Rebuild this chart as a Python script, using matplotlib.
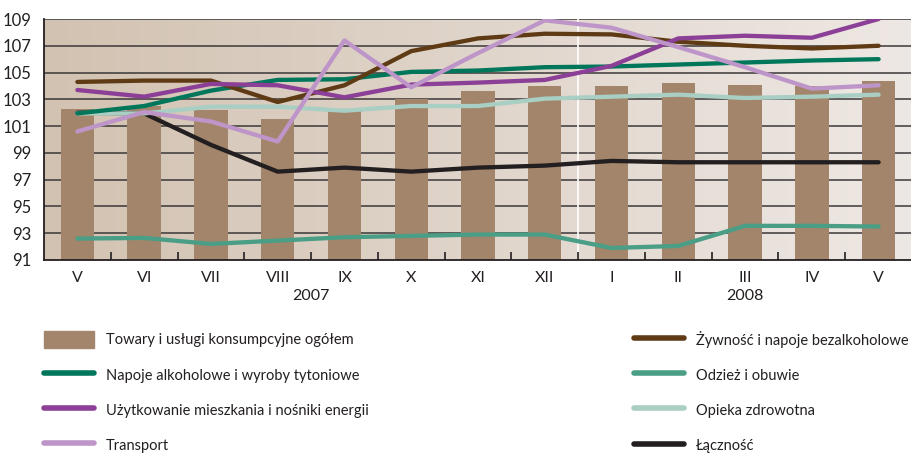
import numpy as np
import matplotlib
matplotlib.use("Agg")
import matplotlib.pyplot as plt
from matplotlib.lines import Line2D
from matplotlib.patches import Patch
from matplotlib.colors import LinearSegmentedColormap
import matplotlib.transforms as mtransforms

plt.rcParams['font.family'] = ['Lato', 'DejaVu Sans']

months = ['V', 'VI', 'VII', 'VIII', 'IX', 'X', 'XI', 'XII', 'I', 'II', 'III', 'IV', 'V']
years = ['2007', '2008']

ogolem = [102.3, 102.5, 102.2, 101.5, 102.1, 103.0, 103.65, 104.0, 104.0, 104.2, 104.05, 104.0, 104.35]
zywnosc = [104.3, 104.4, 104.4, 102.8, 104.05, 106.6, 107.55, 107.9, 107.85, 107.3, 107.0, 106.8, 107.0]
alkohol = [101.95, 102.5, 103.65, 104.45, 104.5, 105.05, 105.15, 105.4, 105.45, 105.6, 105.75, 105.9, 106.0]
mieszkanie = [103.7, 103.2, 104.15, 104.05, 103.15, 104.1, 104.25, 104.45, 105.5, 107.55, 107.75, 107.6, 109.0]
odziez = [92.6, 92.65, 92.2, 92.45, 92.7, 92.8, 92.9, 92.9, 91.9, 92.05, 93.55, 93.55, 93.5]
transport = [100.6, 102.05, 101.35, 99.85, 107.4, 103.9, 106.45, 108.9, 108.35, 106.9, 105.4, 103.8, 104.05]
zdrowie = [101.95, 101.95, 102.45, 102.45, 102.15, 102.5, 102.5, 103.05, 103.2, 103.35, 103.1, 103.2, 103.35]
lacznosc = [102.0, 101.95, 99.6, 97.6, 97.9, 97.6, 97.9, 98.05, 98.4, 98.3, 98.3, 98.3, 98.3]

fig = plt.figure(figsize=(9.12, 4.53), dpi=100)
ax = fig.add_axes([44/912, 1-260/453, 868/912, 241/453])

x = np.arange(len(months))

# background gradient
cmap = LinearSegmentedColormap.from_list('bg', ['#D2C2B1', '#EEE8E4'])
ax.imshow(np.linspace(0, 1, 256).reshape(1, -1), cmap=cmap, aspect='auto',
          extent=[0, 1, 0, 1], transform=ax.transAxes, zorder=0)

ax.set_xlim(-0.5, len(months) - 0.5)
ax.set_ylim(91, 109)

for v in range(93, 110, 2):
    ax.axhline(v, color='#3b3838', lw=1.1, zorder=1)
ax.axvline(7.5, color='white', lw=1.2, zorder=1)

ax.bar(x, np.array(ogolem) - 91, width=0.5, bottom=91, color='#A2856A', zorder=2)

lw = 3.1
series = [
    (lacznosc, '#231F20'),
    (odziez, '#4A9E86'),
    (zdrowie, '#A9CEC3'),
    (alkohol, '#00765A'),
    (zywnosc, '#5F3B15'),
    (mieszkanie, '#8C3F97'),
    (transport, '#BE95C9'),
]
for vals, c in series:
    ax.plot(x, vals, color=c, lw=lw, solid_capstyle='round', solid_joinstyle='round', zorder=3)

ax.set_yticks(range(91, 110, 2))
ax.tick_params(axis='y', length=0, pad=9, labelsize=12, labelcolor='#231F20')
ax.set_xticks(x)
ax.set_xticklabels(months)
ax.tick_params(axis='x', which='major', length=0, pad=8, labelsize=11.5, labelcolor='#231F20')
ax.set_xticks(np.arange(0.5, len(months), 1), minor=True)
ax.tick_params(axis='x', which='minor', direction='in', length=6, width=1.2, color='#231F20')

for s in ['top', 'right']:
    ax.spines[s].set_visible(False)
for s in ['left', 'bottom']:
    ax.spines[s].set_color('#231F20')
    ax.spines[s].set_linewidth(1.3)
    ax.spines[s].set_zorder(4)

trans = mtransforms.blended_transform_factory(ax.transData, ax.transAxes)
ax.text(3.5, -0.15, years[0], transform=trans, ha='center', va='center', fontsize=11.5, color='#231F20')
ax.text(10, -0.15, years[1], transform=trans, ha='center', va='center', fontsize=11.5, color='#231F20')

left_handles = [
    Patch(color='#A2856A'),
    Line2D([], [], color='#00765A', lw=4, solid_capstyle='round'),
    Line2D([], [], color='#8C3F97', lw=4, solid_capstyle='round'),
    Line2D([], [], color='#BE95C9', lw=4, solid_capstyle='round'),
]
left_labels = ['Towary i usługi konsumpcyjne ogółem', 'Napoje alkoholowe i wyroby tytoniowe',
               'Użytkowanie mieszkania i nośniki energii', 'Transport']
right_handles = [
    Line2D([], [], color='#5F3B15', lw=4, solid_capstyle='round'),
    Line2D([], [], color='#4A9E86', lw=4, solid_capstyle='round'),
    Line2D([], [], color='#A9CEC3', lw=4, solid_capstyle='round'),
    Line2D([], [], color='#231F20', lw=4, solid_capstyle='round'),
]
right_labels = ['Żywność i napoje bezalkoholowe', 'Odzież i obuwie', 'Opieka zdrowotna', 'Łączność']

kw = dict(frameon=False, fontsize=10.5, handlelength=3.4, handleheight=1.45, labelspacing=1.22,
          handletextpad=0.85, borderpad=0, borderaxespad=0, labelcolor='#231F20')
fig.legend(left_handles, left_labels, loc='upper left', bbox_to_anchor=(44/912, 1-331/453), **kw)
fig.legend(right_handles, right_labels, loc='upper left', bbox_to_anchor=(634/912, 1-331/453), **kw)

fig.savefig('out.png', dpi=100)
